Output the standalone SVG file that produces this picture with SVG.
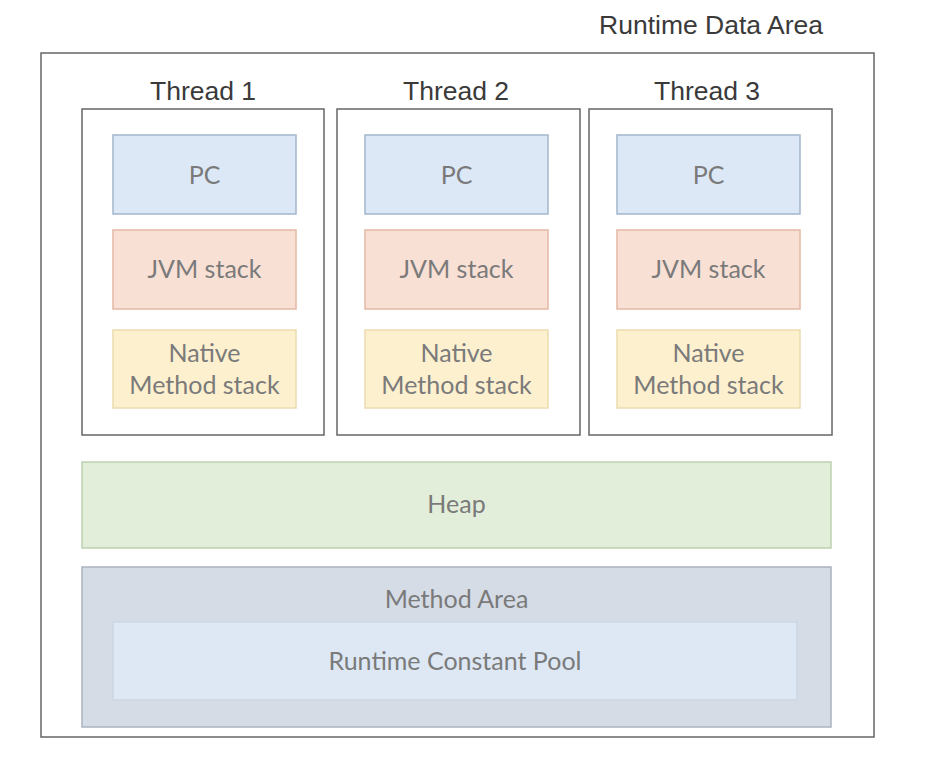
<svg xmlns="http://www.w3.org/2000/svg" width="944" height="761" viewBox="0 0 944 761">
<style>
.title{font-family:"Liberation Sans",Arial,sans-serif;font-size:26.5px;fill:#3a3a3a;text-anchor:middle}
.lbl{font-family:Lato,"Open Sans",sans-serif;font-size:25px;fill:#7a7a7a;text-anchor:middle}
.frame{fill:#fff;stroke:#666;stroke-width:1.5}
.pc{fill:#dce8f5;stroke:#a3b6cc;stroke-width:1.5}
.jvm{fill:#f9e0d5;stroke:#e3b8a4;stroke-width:1.5}
.nat{fill:#fdf0cf;stroke:#ecdcae;stroke-width:1.5}
.heap{fill:#e2eed9;stroke:#bdd1af;stroke-width:1.5}
.ma{fill:#d5dce6;stroke:#aab3c0;stroke-width:1.5}
.pool{fill:#dde8f4;stroke:#cad6e4;stroke-width:1.5}
</style>
<rect width="944" height="761" fill="#fff"/>
<g id="runtime-data-area">
<text class="title" x="711" y="34">Runtime Data Area</text>
<rect class="frame" x="41" y="53" width="833" height="684"/>
</g>
<g id="thread1">
<text class="title" x="203" y="100">Thread 1</text>
<rect class="frame" x="82" y="109" width="242" height="326"/>
<rect class="pc" x="113" y="135" width="183" height="79"/>
<text class="lbl" x="204.5" y="184">PC</text>
<rect class="jvm" x="113" y="230" width="183" height="79"/>
<text class="lbl" x="204.5" y="278">JVM stack</text>
<rect class="nat" x="113" y="330" width="183" height="78"/>
<text class="lbl" x="204.5" y="362">Native</text>
<text class="lbl" x="204.5" y="394">Method stack</text>
</g>
<g id="thread2">
<text class="title" x="456" y="100">Thread 2</text>
<rect class="frame" x="337" y="109" width="243" height="326"/>
<rect class="pc" x="365" y="135" width="183" height="79"/>
<text class="lbl" x="456.5" y="184">PC</text>
<rect class="jvm" x="365" y="230" width="183" height="79"/>
<text class="lbl" x="456.5" y="278">JVM stack</text>
<rect class="nat" x="365" y="330" width="183" height="78"/>
<text class="lbl" x="456.5" y="362">Native</text>
<text class="lbl" x="456.5" y="394">Method stack</text>
</g>
<g id="thread3">
<text class="title" x="707" y="100">Thread 3</text>
<rect class="frame" x="589" y="109" width="243" height="326"/>
<rect class="pc" x="617" y="135" width="183" height="79"/>
<text class="lbl" x="708.5" y="184">PC</text>
<rect class="jvm" x="617" y="230" width="183" height="79"/>
<text class="lbl" x="708.5" y="278">JVM stack</text>
<rect class="nat" x="617" y="330" width="183" height="78"/>
<text class="lbl" x="708.5" y="362">Native</text>
<text class="lbl" x="708.5" y="394">Method stack</text>
</g>
<g id="heap">
<rect class="heap" x="82" y="462" width="749" height="86"/>
<text class="lbl" x="456.5" y="513">Heap</text>
</g>
<g id="method-area">
<rect class="ma" x="82" y="567" width="749" height="160"/>
<text class="lbl" x="456.5" y="608">Method Area</text>
</g>
<g id="runtime-constant-pool">
<rect class="pool" x="113" y="622" width="684" height="78"/>
<text class="lbl" x="455" y="670">Runtime Constant Pool</text>
</g>
<g id="connectors"/>
</svg>
